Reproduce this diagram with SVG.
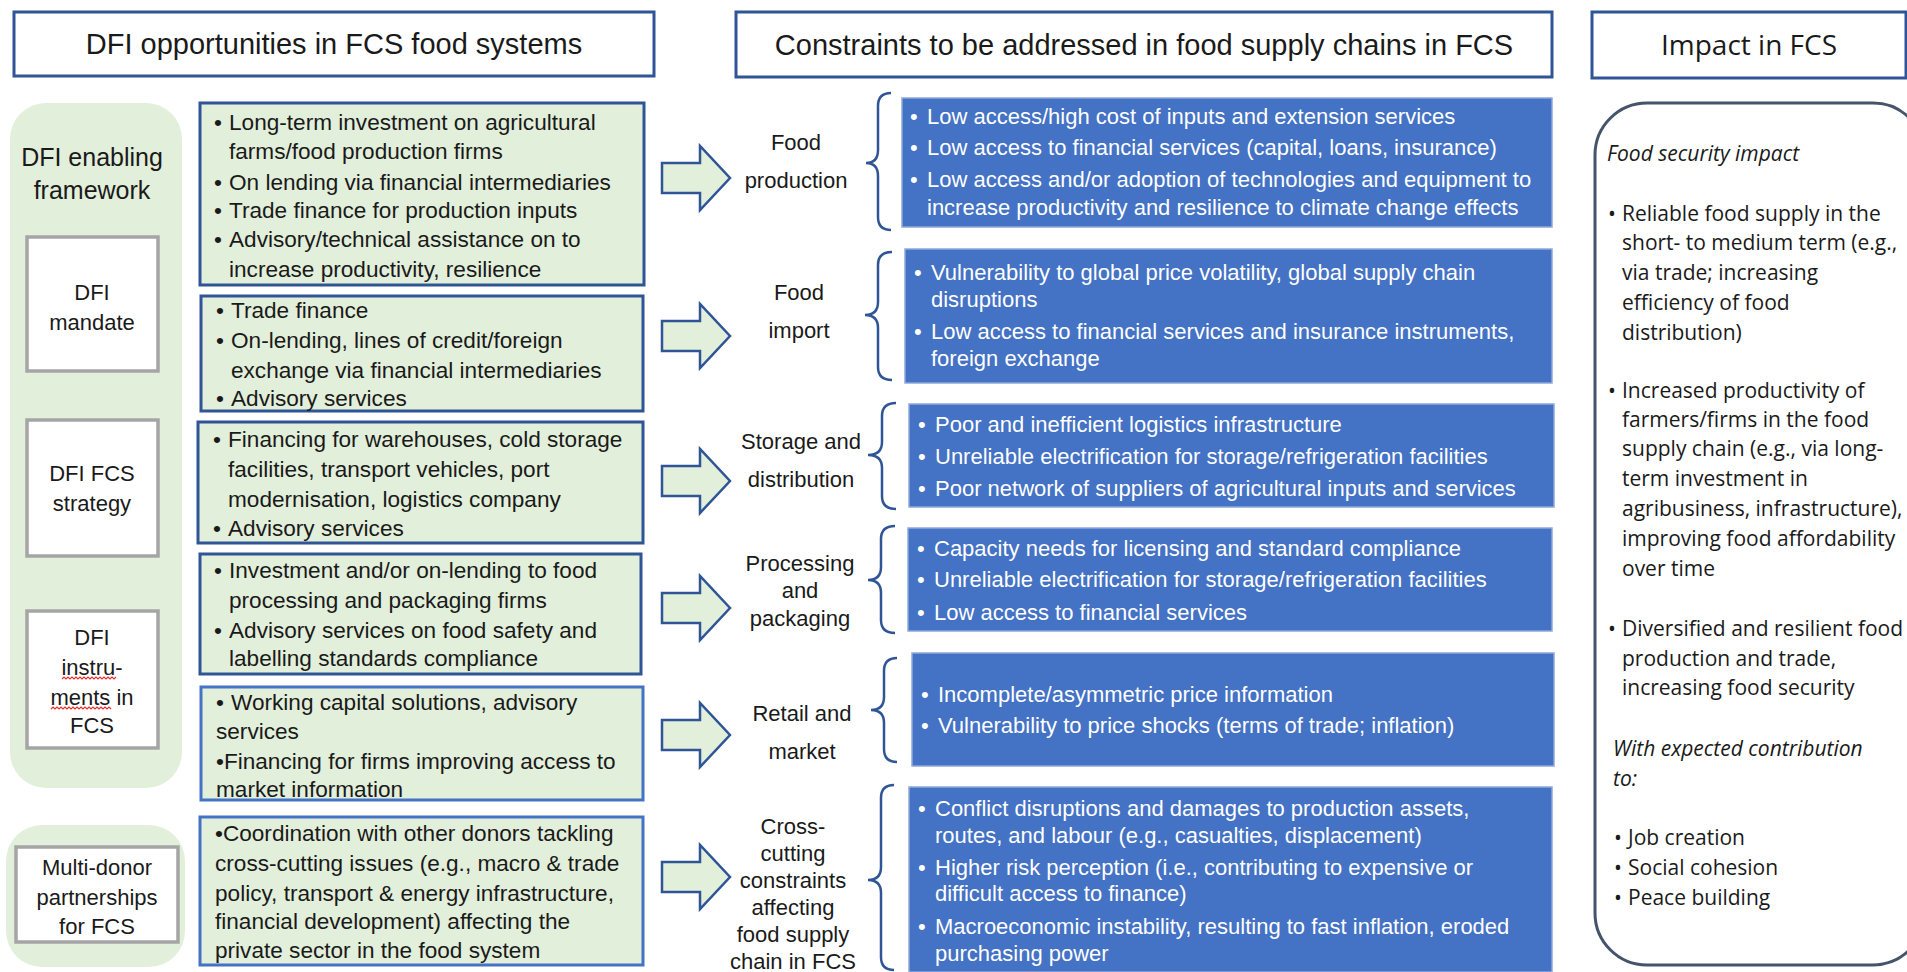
<svg xmlns="http://www.w3.org/2000/svg" width="1907" height="972" viewBox="0 0 1907 972">
<style>
.t{font-family:"Liberation Sans",Arial,sans-serif;fill:#1a1a1a}
.h{font-size:29px;text-anchor:middle}
.b{font-size:22.6px}
.c{font-size:22px;text-anchor:middle}
.w{font-family:"Liberation Sans",Arial,sans-serif;font-size:22px;fill:#ffffff}
.o{font-family:"Open Sans",sans-serif;font-size:21px;fill:#1a1a1a}
.title{fill:#ffffff;stroke:#2F5597;stroke-width:3}
.gp{fill:#E2EFDA}
.gb{fill:#E2EFDA;stroke:#2F5597;stroke-width:3}
.gb2{fill:#E2EFDA;stroke:#4472C4;stroke-width:3}
.wb{fill:#ffffff;stroke:#A5A5A5;stroke-width:3.5}
.bb{fill:#4472C4;stroke:#8EA9DB;stroke-width:1.5}
.arr{fill:#E2EFDA;stroke:#2F5597;stroke-width:2.5;stroke-linejoin:miter}
.br{fill:none;stroke:#2F5597;stroke-width:2.5}
.sq{fill:none;stroke:#E03030;stroke-width:1.2}
</style>

<g id="title-opportunities">
<rect class="title" x="14" y="12" width="640" height="64"/>
<text class="t h" x="334" y="54">DFI opportunities in FCS food systems</text>
</g>
<g id="title-constraints">
<rect class="title" x="736" y="12" width="816" height="65"/>
<text class="t h" x="1144" y="55">Constraints to be addressed in food supply chains in FCS</text>
</g>
<g id="title-impact">
<rect class="title" x="1592" y="12" width="314" height="66"/>
<text class="o" x="1749" y="55" style="font-size:28px;text-anchor:middle">Impact in FCS</text>
</g>

<g id="enabling-framework">
<rect class="gp" x="10" y="103" width="172" height="685" rx="36"/>
<text class="t" x="92" y="166" style="font-size:25px;text-anchor:middle">DFI enabling</text>
<text class="t" x="92" y="199" style="font-size:25px;text-anchor:middle">framework</text>
</g>
<g id="dfi-mandate">
<rect class="wb" x="27" y="237" width="131" height="134"/>
<text class="t c" x="92" y="300">DFI</text>
<text class="t c" x="92" y="330">mandate</text>
</g>
<g id="dfi-fcs-strategy">
<rect class="wb" x="27" y="420" width="131" height="136"/>
<text class="t c" x="92" y="481">DFI FCS</text>
<text class="t c" x="92" y="511">strategy</text>
</g>
<g id="dfi-instruments">
<rect class="wb" x="27" y="611" width="131" height="137"/>
<text class="t c" x="92" y="645">DFI</text>
<text class="t c" x="92" y="675">instru-</text>
<text class="t c" x="92" y="705">ments in</text>
<text class="t c" x="92" y="733">FCS</text>
<path class="sq" d="M62,679 l2,-2 l2,2 l2,-2 l2,2 l2,-2 l2,2 l2,-2 l2,2 l2,-2 l2,2 l2,-2 l2,2 l2,-2 l2,2 l2,-2 l2,2 l2,-2 l2,2 l2,-2 l2,2 l2,-2 l2,2 l2,-2 l2,2 l2,-2 l2,2 l2,-2"/>
<path class="sq" d="M51,709 l2,-2 l2,2 l2,-2 l2,2 l2,-2 l2,2 l2,-2 l2,2 l2,-2 l2,2 l2,-2 l2,2 l2,-2 l2,2 l2,-2 l2,2 l2,-2 l2,2 l2,-2 l2,2 l2,-2 l2,2 l2,-2 l2,2 l2,-2 l2,2 l2,-2 l2,2 l2,-2 l2,2"/>
</g>
<g id="multi-donor">
<rect class="gp" x="6" y="825" width="179" height="142" rx="36"/>
<rect class="wb" x="16" y="847" width="162" height="95"/>
<text class="t c" x="97" y="875">Multi-donor</text>
<text class="t c" x="97" y="905">partnerships</text>
<text class="t c" x="97" y="934">for FCS</text>
</g>

<g id="opp-production">
<rect class="gb" x="200" y="103" width="444" height="182"/>
<text class="t b" x="214" y="130">•</text><text class="t b" x="229" y="130">Long-term investment on agricultural</text>
<text class="t b" x="229" y="159">farms/food production firms</text>
<text class="t b" x="214" y="190">•</text><text class="t b" x="229" y="190">On lending via financial intermediaries</text>
<text class="t b" x="214" y="218">•</text><text class="t b" x="229" y="218">Trade finance for production inputs</text>
<text class="t b" x="214" y="247">•</text><text class="t b" x="229" y="247">Advisory/technical assistance on to</text>
<text class="t b" x="229" y="277">increase productivity, resilience</text>
</g>
<g id="opp-import">
<rect class="gb" x="201" y="296" width="442" height="115"/>
<text class="t b" x="216" y="318">•</text><text class="t b" x="231" y="318">Trade finance</text>
<text class="t b" x="216" y="348">•</text><text class="t b" x="231" y="348">On-lending, lines of credit/foreign</text>
<text class="t b" x="231" y="378">exchange via financial intermediaries</text>
<text class="t b" x="216" y="406">•</text><text class="t b" x="231" y="406">Advisory services</text>
</g>
<g id="opp-storage">
<rect class="gb" x="198" y="422" width="445" height="121"/>
<text class="t b" x="213" y="447">•</text><text class="t b" x="228" y="447">Financing for warehouses, cold storage</text>
<text class="t b" x="228" y="477">facilities, transport vehicles, port</text>
<text class="t b" x="228" y="507">modernisation, logistics company</text>
<text class="t b" x="213" y="536">•</text><text class="t b" x="228" y="536">Advisory services</text>
</g>
<g id="opp-processing">
<rect class="gb" x="200" y="554" width="441" height="120"/>
<text class="t b" x="214" y="578">•</text><text class="t b" x="229" y="578">Investment and/or on-lending to food</text>
<text class="t b" x="229" y="608">processing and packaging firms</text>
<text class="t b" x="214" y="638">•</text><text class="t b" x="229" y="638">Advisory services on food safety and</text>
<text class="t b" x="229" y="666">labelling standards compliance</text>
</g>
<g id="opp-retail">
<rect class="gb2" x="201" y="687" width="442" height="113"/>
<text class="t b" x="216" y="710">•</text><text class="t b" x="231" y="710">Working capital solutions, advisory</text>
<text class="t b" x="216" y="739">services</text>
<text class="t b" x="216" y="769">•Financing for firms improving access to</text>
<text class="t b" x="216" y="797">market information</text>
</g>
<g id="opp-crosscutting">
<rect class="gb2" x="200" y="817" width="443" height="148"/>
<text class="t b" x="215" y="841">•Coordination with other donors tackling</text>
<text class="t b" x="215" y="871">cross-cutting issues (e.g., macro &amp; trade</text>
<text class="t b" x="215" y="901">policy, transport &amp; energy infrastructure,</text>
<text class="t b" x="215" y="929">financial development) affecting the</text>
<text class="t b" x="215" y="958">private sector in the food system</text>
</g>

<g id="connectors">
<path class="arr" d="M662,163 L700,163 L700,146 L730,178 L700,210 L700,193 L662,193 Z"/>
<path class="arr" d="M662,321 L700,321 L700,304 L730,336 L700,368 L700,351 L662,351 Z"/>
<path class="arr" d="M662,466 L700,466 L700,449 L730,481 L700,513 L700,496 L662,496 Z"/>
<path class="arr" d="M662,593 L700,593 L700,576 L730,608 L700,640 L700,623 L662,623 Z"/>
<path class="arr" d="M662,720 L700,720 L700,703 L730,735 L700,767 L700,750 L662,750 Z"/>
<path class="arr" d="M662,862 L700,862 L700,845 L730,877 L700,909 L700,892 L662,892 Z"/>
<path class="br" d="M891,93 Q878,93 878,106 L878,150 Q878,163 866,163 Q878,163 878,176 L878,217 Q878,230 891,230"/>
<path class="br" d="M892,252 Q878,252 878,265 L878,302 Q878,315 865,315 Q878,315 878,328 L878,367 Q878,380 892,380"/>
<path class="br" d="M896,403 Q882,403 882,416 L882,442 Q882,455 868,455 Q882,455 882,468 L882,496 Q882,509 896,509"/>
<path class="br" d="M895,526 Q881,526 881,539 L881,567 Q881,580 868,580 Q881,580 881,593 L881,620 Q881,633 895,633"/>
<path class="br" d="M897,658 Q884,658 884,671 L884,697 Q884,710 871,710 Q884,710 884,723 L884,749 Q884,762 897,762"/>
<path class="br" d="M894,785 Q881,785 881,798 L881,867 Q881,880 868,880 Q881,880 881,893 L881,957 Q881,970 894,970"/>
</g>

<g id="stage-production">
<text class="t c" x="796" y="150">Food</text>
<text class="t c" x="796" y="188">production</text>
</g>
<g id="stage-import">
<text class="t c" x="799" y="300">Food</text>
<text class="t c" x="799" y="338">import</text>
</g>
<g id="stage-storage">
<text class="t c" x="801" y="449">Storage and</text>
<text class="t c" x="801" y="487">distribution</text>
</g>
<g id="stage-processing">
<text class="t c" x="800" y="571">Processing</text>
<text class="t c" x="800" y="598">and</text>
<text class="t c" x="800" y="626">packaging</text>
</g>
<g id="stage-retail">
<text class="t c" x="802" y="721">Retail and</text>
<text class="t c" x="802" y="759">market</text>
</g>
<g id="stage-crosscutting">
<text class="t c" x="793" y="834">Cross-</text>
<text class="t c" x="793" y="861">cutting</text>
<text class="t c" x="793" y="888">constraints</text>
<text class="t c" x="793" y="915">affecting</text>
<text class="t c" x="793" y="942">food supply</text>
<text class="t c" x="793" y="969">chain in FCS</text>
</g>

<g id="con-production">
<rect class="bb" x="902" y="98" width="650" height="129"/>
<text class="w" x="910" y="124">•</text><text class="w" x="927" y="124">Low access/high cost of inputs and extension services</text>
<text class="w" x="910" y="155">•</text><text class="w" x="927" y="155">Low access to financial services (capital, loans, insurance)</text>
<text class="w" x="910" y="187">•</text><text class="w" x="927" y="187">Low access and/or adoption of technologies and equipment to</text>
<text class="w" x="927" y="215">increase productivity and resilience to climate change effects</text>
</g>
<g id="con-import">
<rect class="bb" x="905" y="249" width="647" height="134"/>
<text class="w" x="914" y="280">•</text><text class="w" x="931" y="280">Vulnerability to global price volatility, global supply chain</text>
<text class="w" x="931" y="307">disruptions</text>
<text class="w" x="914" y="339">•</text><text class="w" x="931" y="339">Low access to financial services and insurance instruments,</text>
<text class="w" x="931" y="366">foreign exchange</text>
</g>
<g id="con-storage">
<rect class="bb" x="909" y="404" width="645" height="103"/>
<text class="w" x="918" y="432">•</text><text class="w" x="935" y="432">Poor and inefficient logistics infrastructure</text>
<text class="w" x="918" y="464">•</text><text class="w" x="935" y="464">Unreliable electrification for storage/refrigeration facilities</text>
<text class="w" x="918" y="496">•</text><text class="w" x="935" y="496">Poor network of suppliers of agricultural inputs and services</text>
</g>
<g id="con-processing">
<rect class="bb" x="908" y="528" width="644" height="103"/>
<text class="w" x="917" y="556">•</text><text class="w" x="934" y="556">Capacity needs for licensing and standard compliance</text>
<text class="w" x="917" y="587">•</text><text class="w" x="934" y="587">Unreliable electrification for storage/refrigeration facilities</text>
<text class="w" x="917" y="620">•</text><text class="w" x="934" y="620">Low access to financial services</text>
</g>
<g id="con-retail">
<rect class="bb" x="912" y="653" width="642" height="113"/>
<text class="w" x="921" y="702">•</text><text class="w" x="938" y="702">Incomplete/asymmetric price information</text>
<text class="w" x="921" y="733">•</text><text class="w" x="938" y="733">Vulnerability to price shocks (terms of trade; inflation)</text>
</g>
<g id="con-crosscutting">
<rect class="bb" x="909" y="787" width="643" height="185"/>
<text class="w" x="918" y="816">•</text><text class="w" x="935" y="816">Conflict disruptions and damages to production assets,</text>
<text class="w" x="935" y="843">routes, and labour (e.g., casualties, displacement)</text>
<text class="w" x="918" y="875">•</text><text class="w" x="935" y="875">Higher risk perception (i.e., contributing to expensive or</text>
<text class="w" x="935" y="901">difficult access to finance)</text>
<text class="w" x="918" y="934">•</text><text class="w" x="935" y="934">Macroeconomic instability, resulting to fast inflation, eroded</text>
<text class="w" x="935" y="961">purchasing power</text>
</g>

<g id="impact">
<rect x="1595" y="103" width="330" height="862" rx="52" fill="#ffffff" stroke="#44546A" stroke-width="3"/>
<text class="o" x="1607" y="161" style="font-style:italic">Food security impact</text>
<text class="o" x="1608" y="221">•</text><text class="o" x="1622" y="221">Reliable food supply in the</text>
<text class="o" x="1622" y="250">short- to medium term (e.g.,</text>
<text class="o" x="1622" y="280">via trade; increasing</text>
<text class="o" x="1622" y="310">efficiency of food</text>
<text class="o" x="1622" y="340">distribution)</text>
<text class="o" x="1608" y="398">•</text><text class="o" x="1622" y="398">Increased productivity of</text>
<text class="o" x="1622" y="427">farmers/firms in the food</text>
<text class="o" x="1622" y="456">supply chain (e.g., via long-</text>
<text class="o" x="1622" y="486">term investment in</text>
<text class="o" x="1622" y="516">agribusiness, infrastructure),</text>
<text class="o" x="1622" y="546">improving food affordability</text>
<text class="o" x="1622" y="576">over time</text>
<text class="o" x="1608" y="636">•</text><text class="o" x="1622" y="636">Diversified and resilient food</text>
<text class="o" x="1622" y="666">production and trade,</text>
<text class="o" x="1622" y="695">increasing food security</text>
<text class="o" x="1613" y="756" style="font-style:italic">With expected contribution</text>
<text class="o" x="1613" y="786" style="font-style:italic">to:</text>
<text class="o" x="1614" y="845">•</text><text class="o" x="1628" y="845">Job creation</text>
<text class="o" x="1614" y="875">•</text><text class="o" x="1628" y="875">Social cohesion</text>
<text class="o" x="1614" y="905">•</text><text class="o" x="1628" y="905">Peace building</text>
</g>
</svg>
